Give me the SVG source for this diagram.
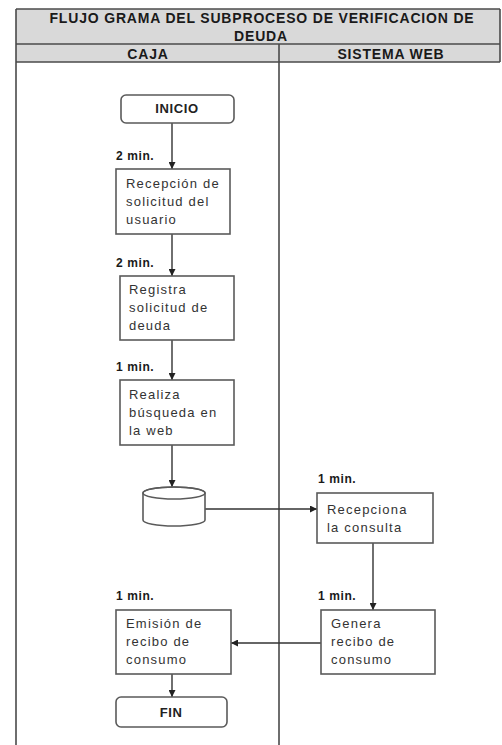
<svg xmlns="http://www.w3.org/2000/svg" width="502" height="745" viewBox="0 0 502 745">
  <defs>
    <marker id="arrow" viewBox="0 0 8 8" refX="8" refY="4" markerWidth="7" markerHeight="7" markerUnits="userSpaceOnUse" orient="auto">
      <path d="M0,0 L8,4 L0,8 Z" fill="#222"/>
    </marker>
    <style>
      .grid { stroke: #4a4a4a; stroke-width: 1.6; fill: none; }
      .head { fill: #d9d9d9; }
      .htxt { font-family: "Liberation Sans", Arial, sans-serif; font-weight: bold; font-size: 14px; fill: #1a1a1a; text-anchor: middle; letter-spacing: 0.8px; }
      .box { fill: #ffffff; stroke: #5a5a5a; stroke-width: 1.6; }
      .txt { font-family: "Liberation Sans", Arial, sans-serif; font-size: 13px; fill: #333; letter-spacing: 1.2px; }
      .term { font-family: "Liberation Sans", Arial, sans-serif; font-weight: bold; font-size: 13px; fill: #222; text-anchor: middle; letter-spacing: 0.6px; }
      .lbl { font-family: "Liberation Sans", Arial, sans-serif; font-weight: bold; font-size: 12px; fill: #1a1a1a; letter-spacing: 0.6px; }
      .wire { stroke: #333; stroke-width: 1.4; fill: none; }
    </style>
  </defs>

  <rect width="502" height="745" fill="#ffffff"/>

  <!-- table header -->
  <g id="header">
    <rect class="head" x="16" y="9" width="484" height="53"/>
    <line class="grid" x1="16" y1="9" x2="500" y2="9"/>
    <line class="grid" x1="16" y1="44" x2="500" y2="44" stroke-width="2"/>
    <line class="grid" x1="16" y1="62" x2="500" y2="62"/>
    <line class="grid" x1="500" y1="9" x2="500" y2="62"/>
    <text class="htxt" x="262" y="23" textLength="425" lengthAdjust="spacing">FLUJO GRAMA DEL SUBPROCESO DE VERIFICACION DE</text>
    <text class="htxt" x="261" y="41">DEUDA</text>
    <text class="htxt" x="148" y="59">CAJA</text>
    <text class="htxt" x="391" y="59">SISTEMA WEB</text>
  </g>

  <!-- lanes -->
  <g id="lanes">
    <line class="grid" x1="16" y1="9" x2="16" y2="745"/>
    <line class="grid" x1="279" y1="44" x2="279" y2="745"/>
  </g>

  <!-- connectors -->
  <g id="connectors">
    <line class="wire" x1="172" y1="123" x2="172" y2="169" marker-end="url(#arrow)"/>
    <line class="wire" x1="172" y1="234" x2="172" y2="276" marker-end="url(#arrow)"/>
    <line class="wire" x1="172" y1="340" x2="172" y2="380" marker-end="url(#arrow)"/>
    <line class="wire" x1="172" y1="445" x2="172" y2="487" marker-end="url(#arrow)"/>
    <line class="wire" x1="205" y1="509" x2="317" y2="509" marker-end="url(#arrow)"/>
    <line class="wire" x1="373" y1="543" x2="373" y2="610" marker-end="url(#arrow)"/>
    <line class="wire" x1="321" y1="643" x2="231" y2="643" marker-end="url(#arrow)"/>
    <line class="wire" x1="172" y1="674" x2="172" y2="697" marker-end="url(#arrow)"/>
  </g>

  <g id="inicio">
    <rect class="box" x="121" y="95" width="113" height="28" rx="5"/>
    <text class="term" x="177" y="113">INICIO</text>
  </g>

  <g id="recepcion">
    <text class="lbl" x="116" y="160">2 min.</text>
    <rect class="box" x="116" y="169" width="114" height="65"/>
    <text class="txt" x="126" y="188">Recepción de</text>
    <text class="txt" x="126" y="206">solicitud del</text>
    <text class="txt" x="126" y="224">usuario</text>
  </g>

  <g id="registra">
    <text class="lbl" x="116" y="267">2 min.</text>
    <rect class="box" x="120" y="276" width="114" height="64"/>
    <text class="txt" x="129" y="294">Registra</text>
    <text class="txt" x="129" y="312">solicitud de</text>
    <text class="txt" x="129" y="330">deuda</text>
  </g>

  <g id="busqueda">
    <text class="lbl" x="116" y="371">1 min.</text>
    <rect class="box" x="120" y="380" width="114" height="65"/>
    <text class="txt" x="129" y="399">Realiza</text>
    <text class="txt" x="129" y="417">búsqueda en</text>
    <text class="txt" x="129" y="435">la web</text>
  </g>

  <g id="web">
    <path class="box" d="M143,493 L143,520 A31,6 0 0 0 205,520 L205,493 A31,6 0 0 0 143,493 Z"/>
    <ellipse cx="174" cy="493" rx="31" ry="6" fill="none" stroke="#5a5a5a" stroke-width="1.6"/>
  </g>

  <g id="recepciona">
    <text class="lbl" x="318" y="483">1 min.</text>
    <rect class="box" x="317" y="493" width="116" height="50"/>
    <text class="txt" x="327" y="514">Recepciona</text>
    <text class="txt" x="327" y="532">la consulta</text>
  </g>

  <g id="genera">
    <text class="lbl" x="318" y="600">1 min.</text>
    <rect class="box" x="321" y="610" width="114" height="64"/>
    <text class="txt" x="331" y="628">Genera</text>
    <text class="txt" x="331" y="646">recibo de</text>
    <text class="txt" x="331" y="664">consumo</text>
  </g>

  <g id="emision">
    <text class="lbl" x="116" y="600">1 min.</text>
    <rect class="box" x="116" y="610" width="115" height="64"/>
    <text class="txt" x="126" y="628">Emisión de</text>
    <text class="txt" x="126" y="646">recibo de</text>
    <text class="txt" x="126" y="664">consumo</text>
  </g>

  <g id="fin">
    <rect class="box" x="116" y="697" width="111" height="30" rx="5"/>
    <text class="term" x="171" y="717">FIN</text>
  </g>
</svg>
